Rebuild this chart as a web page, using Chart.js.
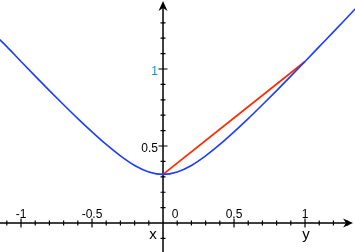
<!DOCTYPE html>
<html>
<head>
<meta charset="utf-8">
<script src="https://cdn.jsdelivr.net/npm/chart.js@4"></script>
<style>
  html, body { margin: 0; padding: 0; background: #fff; }
  canvas { display: block; }
</style>
</head>
<body>
<canvas id="chart" width="355" height="252"></canvas>
<script>
// Curve values
const curveX = [-1.15, -1.1, -1.0, -0.9, -0.8, -0.7, -0.6, -0.5, -0.4, -0.3, -0.2, -0.1, 0,
                0.1, 0.2, 0.3, 0.4, 0.5, 0.6, 0.7, 0.8, 0.9, 1.0, 1.1, 1.2, 1.3, 1.4];
const curveY = [1.191, 1.145, 1.049, 0.954, 0.860, 0.768, 0.678, 0.592, 0.510, 0.436, 0.374, 0.332, 0.316,
                0.332, 0.374, 0.436, 0.510, 0.592, 0.678, 0.768, 0.860, 0.954, 1.049, 1.145, 1.241, 1.338, 1.435];

// Red chord
const chordX = [0, 1];
const chordY = [0.316, 1.049];

// Tick labels
const xTickValues = [-1, -0.5, 0, 0.5, 1];
const xTickLabels = ['-1', '-0.5', '0', '0.5', '1'];
const yTickValues = [0.5, 1];
const yTickLabels = ['0.5', '1'];

function toPoints(xs, ys) {
    return xs.map((x, i) => ({ x: x, y: ys[i] }));
}

// Axes through the origin, with arrows, ticks and labels
const originAxes = {
    id: 'originAxes',
    beforeDatasetsDraw(chart) {
        const ctx = chart.ctx;
        const xs = chart.scales.x;
        const ys = chart.scales.y;
        const x0 = xs.getPixelForValue(0);
        const y0 = ys.getPixelForValue(0);
        const w = chart.width;

        ctx.save();
        ctx.strokeStyle = '#000';
        ctx.fillStyle = '#000';
        ctx.lineWidth = 1.5;

        // axis lines
        ctx.beginPath();
        ctx.moveTo(0, y0);
        ctx.lineTo(w - 6, y0);
        ctx.moveTo(x0, chart.height);
        ctx.lineTo(x0, 6);
        ctx.stroke();

        // arrow heads
        ctx.beginPath();
        ctx.moveTo(w - 2, y0);
        ctx.lineTo(w - 12, y0 - 4.5);
        ctx.lineTo(w - 9, y0);
        ctx.lineTo(w - 12, y0 + 4.5);
        ctx.closePath();
        ctx.fill();
        ctx.beginPath();
        ctx.moveTo(x0, 1);
        ctx.lineTo(x0 - 4.5, 11);
        ctx.lineTo(x0, 8);
        ctx.lineTo(x0 + 4.5, 11);
        ctx.closePath();
        ctx.fill();

        // ticks
        ctx.lineWidth = 1.2;
        ctx.beginPath();
        for (let i = -11; i <= 13; i++) {
            if (i === 0) continue;
            const px = xs.getPixelForValue(i / 10);
            const len = (i % 5 === 0) ? 4.5 : 2.5;
            ctx.moveTo(px, y0 - len);
            ctx.lineTo(px, y0 + len);
        }
        for (let i = -1; i <= 13; i++) {
            if (i === 0) continue;
            const py = ys.getPixelForValue(i / 10);
            const len = (i % 5 === 0) ? 4.5 : 2.5;
            ctx.moveTo(x0 - len, py);
            ctx.lineTo(x0 + len, py);
        }
        ctx.stroke();

        // tick labels
        ctx.font = '12px "Liberation Sans", Arial, sans-serif';
        ctx.textBaseline = 'alphabetic';
        ctx.textAlign = 'center';
        xTickValues.forEach((v, i) => {
            let px = xs.getPixelForValue(v);
            if (v === 0) px += 12;
            ctx.fillText(xTickLabels[i], px, y0 - 5);
        });
        ctx.textAlign = 'right';
        ctx.textBaseline = 'middle';
        yTickValues.forEach((v, i) => {
            const py = ys.getPixelForValue(v) + 3;
            ctx.fillStyle = v === 1 ? '#1f8ad6' : '#000';
            ctx.fillText(yTickLabels[i], x0 - 5, py);
        });

        // axis names
        ctx.fillStyle = '#000';
        ctx.font = '15px "Liberation Sans", Arial, sans-serif';
        ctx.textAlign = 'center';
        ctx.fillText('x', x0 - 10, y0 + 12);
        ctx.fillText('y', xs.getPixelForValue(1) + 1, y0 + 12);

        ctx.restore();
    }
};

new Chart(document.getElementById('chart'), {
    type: 'scatter',
    data: {
        datasets: [
            {
                data: toPoints(curveX, curveY),
                showLine: true,
                borderColor: '#1e3cff',
                borderWidth: 1.6,
                pointRadius: 0,
                cubicInterpolationMode: 'monotone',
                fill: false
            },
            {
                data: toPoints(chordX, chordY),
                showLine: true,
                borderColor: '#ff2a00',
                borderWidth: 1.8,
                pointRadius: 0,
                fill: false
            }
        ]
    },
    options: {
        responsive: false,
        animation: false,
        layout: { padding: 0 },
        plugins: {
            legend: { display: false },
            tooltip: { enabled: false }
        },
        scales: {
            x: { type: 'linear', min: -1.148, max: 1.352, display: false },
            y: { type: 'linear', min: -0.188, max: 1.448, display: false }
        }
    },
    plugins: [originAxes]
});
</script>
</body>
</html>
